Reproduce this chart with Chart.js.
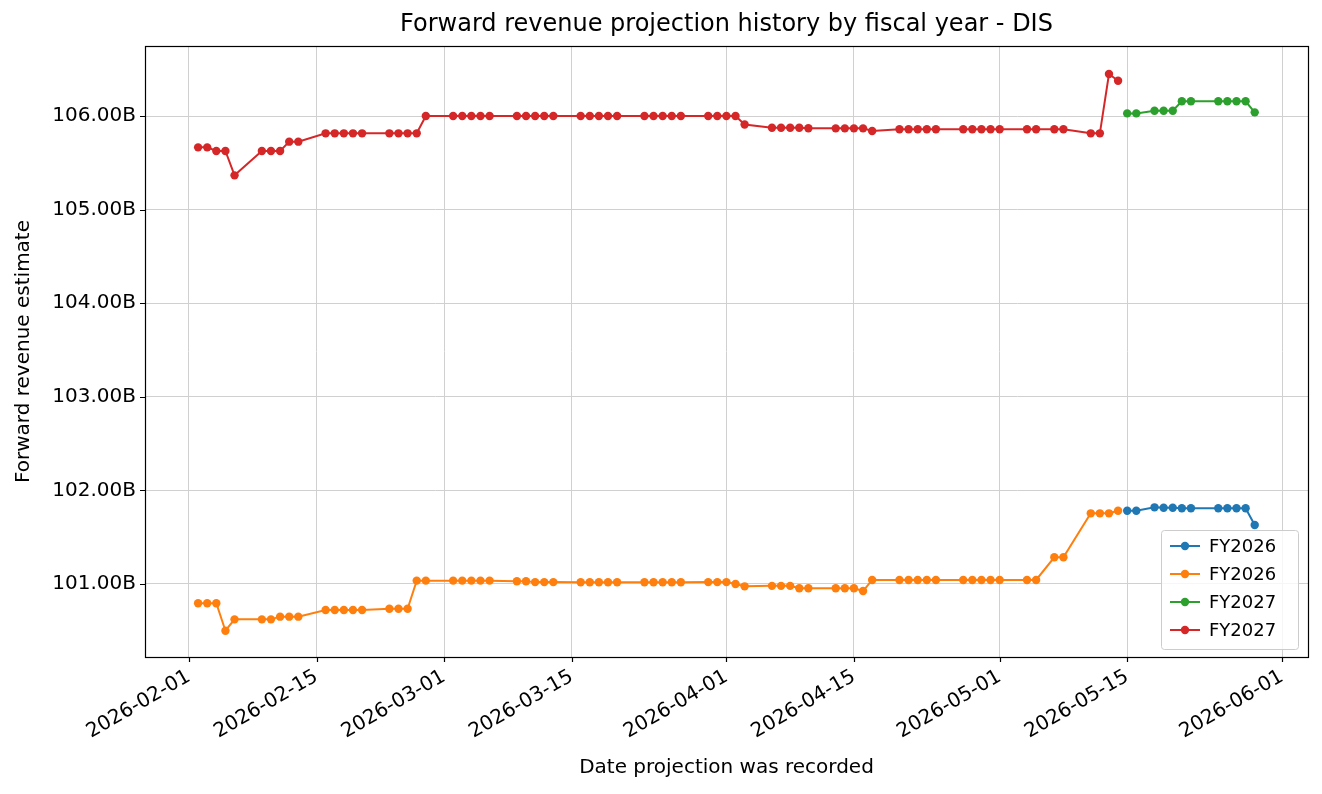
<!DOCTYPE html>
<html><head><meta charset="utf-8">
<script src="https://cdn.jsdelivr.net/npm/chart.js@4"></script>
<style>html,body{margin:0;padding:0;background:#fff}#w{width:1322px;height:794px}</style>
</head><body><div id="w"><canvas id="c"></canvas></div>
<script>
const title = "Forward revenue projection history by fiscal year - DIS";
const xTitle = "Date projection was recorded";
const yTitle = "Forward revenue estimate";
const seriesNames = ["FY2026", "FY2026", "FY2027", "FY2027"];
const colors = ["#1f77b4", "#ff7f0e", "#2ca02c", "#d62728"];
const xTickDates = ["2026-02-01","2026-02-15","2026-03-01","2026-03-15","2026-04-01","2026-04-15","2026-05-01","2026-05-15","2026-06-01"];
const yTickValues = [101,102,103,104,105,106];

const blueDates = ["2026-05-15","2026-05-16","2026-05-18","2026-05-19","2026-05-20","2026-05-21","2026-05-22","2026-05-25","2026-05-26","2026-05-27","2026-05-28","2026-05-29"];
const blueVals = [101.783,101.783,101.819,101.815,101.815,101.81,101.81,101.81,101.81,101.81,101.81,101.63];

const orangeDates = ["2026-02-02","2026-02-03","2026-02-04","2026-02-05","2026-02-06","2026-02-09","2026-02-10","2026-02-11","2026-02-12","2026-02-13",
 "2026-02-16","2026-02-17","2026-02-18","2026-02-19","2026-02-20","2026-02-23","2026-02-24","2026-02-25","2026-02-26","2026-02-27",
 "2026-03-02","2026-03-03","2026-03-04","2026-03-05","2026-03-06","2026-03-09","2026-03-10","2026-03-11","2026-03-12","2026-03-13",
 "2026-03-16","2026-03-17","2026-03-18","2026-03-19","2026-03-20","2026-03-23","2026-03-24","2026-03-25","2026-03-26","2026-03-27",
 "2026-03-30","2026-03-31","2026-04-01","2026-04-02","2026-04-03","2026-04-06","2026-04-07","2026-04-08","2026-04-09","2026-04-10",
 "2026-04-13","2026-04-14","2026-04-15","2026-04-16","2026-04-17","2026-04-20","2026-04-21","2026-04-22","2026-04-23","2026-04-24",
 "2026-04-27","2026-04-28","2026-04-29","2026-04-30","2026-05-01","2026-05-04","2026-05-05","2026-05-07","2026-05-08",
 "2026-05-11","2026-05-12","2026-05-13","2026-05-14"];
const orangeVals = [100.794,100.794,100.794,100.501,100.622,100.622,100.622,100.651,100.651,100.651,
 100.722,100.722,100.722,100.722,100.722,100.736,100.736,100.736,101.036,101.036,
 101.036,101.036,101.036,101.036,101.036,101.03,101.03,101.02,101.02,101.02,
 101.018,101.018,101.018,101.018,101.018,101.018,101.018,101.018,101.018,101.018,
 101.02,101.02,101.02,101.0,100.975,100.98,100.98,100.98,100.955,100.955,
 100.955,100.955,100.955,100.925,101.043,101.043,101.043,101.043,101.043,101.043,
 101.043,101.043,101.043,101.043,101.043,101.043,101.043,101.285,101.285,
 101.755,101.755,101.755,101.783];

const greenDates = ["2026-05-15","2026-05-16","2026-05-18","2026-05-19","2026-05-20","2026-05-21","2026-05-22","2026-05-25","2026-05-26","2026-05-27","2026-05-28","2026-05-29"];
const greenVals = [106.028,106.028,106.057,106.057,106.057,106.157,106.157,106.157,106.157,106.157,106.157,106.039];

const redDates = ["2026-02-02","2026-02-03","2026-02-04","2026-02-05","2026-02-06","2026-02-09","2026-02-10","2026-02-11","2026-02-12","2026-02-13",
 "2026-02-16","2026-02-17","2026-02-18","2026-02-19","2026-02-20","2026-02-23","2026-02-24","2026-02-25","2026-02-26","2026-02-27",
 "2026-03-02","2026-03-03","2026-03-04","2026-03-05","2026-03-06","2026-03-09","2026-03-10","2026-03-11","2026-03-12","2026-03-13",
 "2026-03-16","2026-03-17","2026-03-18","2026-03-19","2026-03-20","2026-03-23","2026-03-24","2026-03-25","2026-03-26","2026-03-27",
 "2026-03-30","2026-03-31","2026-04-01","2026-04-02","2026-04-03","2026-04-06","2026-04-07","2026-04-08","2026-04-09","2026-04-10",
 "2026-04-13","2026-04-14","2026-04-15","2026-04-16","2026-04-17","2026-04-20","2026-04-21","2026-04-22","2026-04-23","2026-04-24",
 "2026-04-27","2026-04-28","2026-04-29","2026-04-30","2026-05-01","2026-05-04","2026-05-05","2026-05-07","2026-05-08",
 "2026-05-11","2026-05-12","2026-05-13","2026-05-14"];
const redVals = [105.665,105.665,105.626,105.626,105.366,105.626,105.626,105.626,105.726,105.726,
 105.815,105.815,105.815,105.815,105.815,105.815,105.815,105.815,105.815,106.0,
 106.0,106.0,106.0,106.0,106.0,106.0,106.0,106.0,106.0,106.0,
 106.0,106.0,106.0,106.0,106.0,106.0,106.0,106.0,106.0,106.0,
 106.0,106.0,106.0,106.0,105.91,105.875,105.875,105.875,105.875,105.87,
 105.868,105.868,105.868,105.868,105.84,105.858,105.858,105.858,105.858,105.858,
 105.858,105.858,105.858,105.858,105.858,105.858,105.858,105.858,105.858,
 105.815,105.815,106.449,106.377];

const DAY = 86400000;
const t = s => Date.parse(s + "T00:00:00Z");
const pts = (d, v) => d.map((s, i) => ({x: t(s), y: v[i]}));
const allSeries = [[blueDates, blueVals],[orangeDates, orangeVals],[greenDates, greenVals],[redDates, redVals]];
const FONT = "'DejaVu Sans', sans-serif";

const datasets = allSeries.map((s, i) => ({
  label: seriesNames[i], data: pts(s[0], s[1]),
  borderColor: colors[i], backgroundColor: colors[i], pointBackgroundColor: colors[i],
  borderWidth: 2, pointRadius: 4.2, pointBorderWidth: 0, pointHoverRadius: 4.2, order: 4 - i, tension: 0
}));

const fmtDate = v => new Date(v).toISOString().slice(0,10);

const deco = {
  id: 'deco',
  afterDraw(chart) {
    const ctx = chart.ctx, a = chart.chartArea, xs = chart.scales.x, ys = chart.scales.y;
    ctx.save();
    ctx.strokeStyle = '#000'; ctx.lineWidth = 1.2;
    ctx.strokeRect(a.left + 0.5, a.top + 0.5, a.right - a.left, a.bottom - a.top);
    ctx.beginPath();
    xTickDates.forEach(s => { const x = Math.round(xs.getPixelForValue(t(s))) + 0.5; ctx.moveTo(x, a.bottom); ctx.lineTo(x, a.bottom + 5); });
    yTickValues.forEach(v => { const y = Math.round(ys.getPixelForValue(v)) + 0.5; ctx.moveTo(a.left, y); ctx.lineTo(a.left - 5, y); });
    ctx.stroke();
    ctx.fillStyle = '#000';
    ctx.font = "24px " + FONT; ctx.textAlign = 'center'; ctx.textBaseline = 'middle';
    ctx.fillText(title, (a.left + a.right) / 2, 25);
    ctx.font = "20px " + FONT;
    ctx.fillText(xTitle, (a.left + a.right) / 2, 768);
    ctx.save(); ctx.translate(24, (a.top + a.bottom) / 2); ctx.rotate(-Math.PI / 2);
    ctx.fillText(yTitle, 0, 0); ctx.restore();
    const bx = 1161, by = 530, bw = 137, bh = 119;
    ctx.fillStyle = 'rgba(255,255,255,0.8)'; ctx.strokeStyle = '#ccc'; ctx.lineWidth = 1;
    ctx.beginPath(); ctx.roundRect(bx + 0.5, by + 0.5, bw, bh, 3); ctx.fill(); ctx.stroke();
    ctx.font = "18px " + FONT; ctx.textAlign = 'left';
    seriesNames.forEach((n, i) => {
      const y = by + 16 + i * 28;
      ctx.strokeStyle = colors[i]; ctx.lineWidth = 2;
      ctx.beginPath(); ctx.moveTo(1170, y); ctx.lineTo(1200, y); ctx.stroke();
      ctx.fillStyle = colors[i]; ctx.beginPath(); ctx.arc(1185, y, 4.2, 0, Math.PI * 2); ctx.fill();
      ctx.fillStyle = '#000'; ctx.fillText(n, 1209, y + 1);
    });
    ctx.restore();
  }
};

new Chart(document.getElementById('c'), {
  type: 'line',
  data: { datasets },
  options: {
    responsive: true, maintainAspectRatio: false, animation: false,
    layout: { padding: { top: 46, right: 14, left: 0, bottom: 0 } },
    plugins: { legend: { display: false }, tooltip: { enabled: false } },
    scales: {
      x: {
        type: 'linear', min: t("2026-02-01") - 4.83 * DAY, max: t("2026-06-01") + 2.85 * DAY,
        afterFit: s => { s.height = 137; },
        afterBuildTicks: s => { s.ticks = xTickDates.map(d => ({ value: t(d) })); },
        grid: { color: '#d0d0d0', lineWidth: 1, drawTicks: false },
        border: { display: false },
        ticks: { autoSkip: false, minRotation: 30, maxRotation: 30, padding: 8, color: '#000',
          font: { family: FONT, size: 20 }, callback: v => fmtDate(v) }
      },
      y: {
        type: 'linear', min: 100.22, max: 106.748,
        afterFit: s => { s.width = 145; },
        afterBuildTicks: s => { s.ticks = yTickValues.map(v => ({ value: v })); },
        grid: { color: '#d0d0d0', lineWidth: 1, drawTicks: false },
        border: { display: false },
        ticks: { padding: 9, color: '#000', font: { family: FONT, size: 20 }, callback: v => v.toFixed(2) + "B" }
      }
    }
  },
  plugins: [deco]
});
</script></body></html>
